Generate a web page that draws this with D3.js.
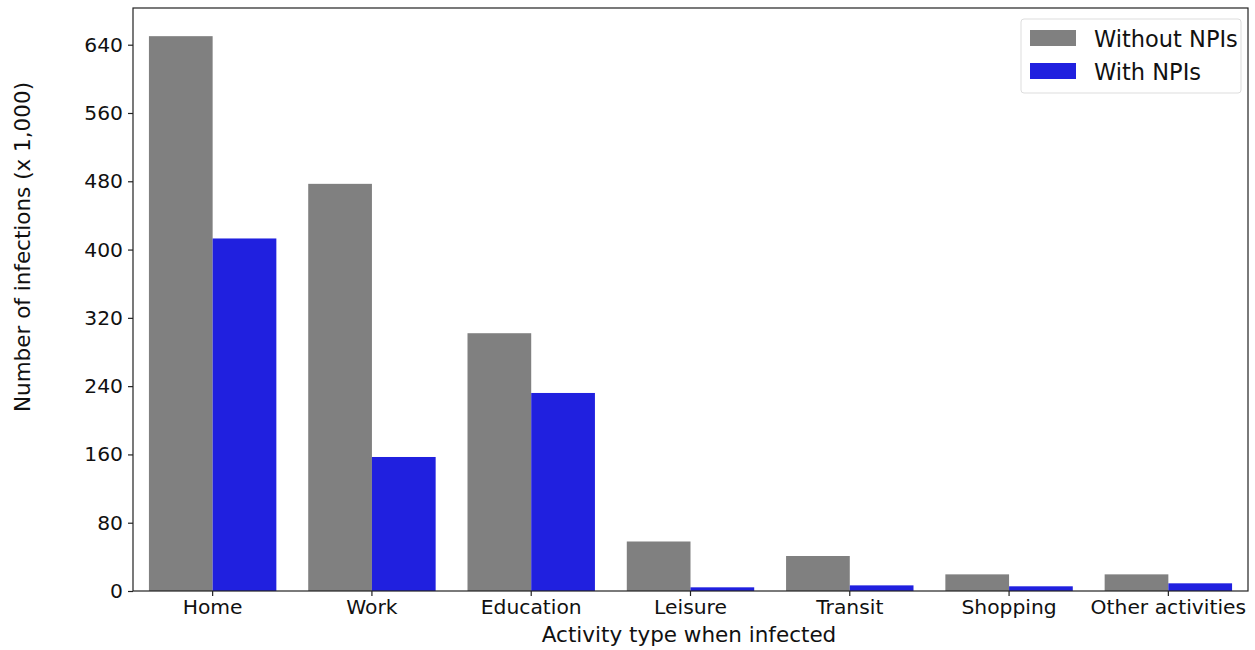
<!DOCTYPE html>
<html>
<head>
<meta charset="utf-8">
<script src="https://cdn.jsdelivr.net/npm/d3@7"></script>
<style>
  body { margin: 0; background: #fff; }
  text { font-family: 'DejaVu Sans', sans-serif; fill: #111; }
</style>
</head>
<body>
<div id="chart"></div>
<script>
const categories = ['Home', 'Work', 'Education', 'Leisure', 'Transit', 'Shopping', 'Other activities']
const seriesNames = ['Without NPIs', 'With NPIs']
const withoutNPIs = [650, 477, 302, 58, 41, 19.5, 19.5]
const withNPIs = [413, 157, 232, 4.3, 6.6, 5.5, 9]
const yTicks = [0, 80, 160, 240, 320, 400, 480, 560, 640]

const W = 1255
const H = 650
const margin = { top: 8, right: 7, bottom: 59, left: 133 }
const width = W - margin.left - margin.right
const height = H - margin.top - margin.bottom

const colors = { 'Without NPIs': '#808080', 'With NPIs': '#2020df' }

const svg = d3.select('#chart')
  .append('svg')
  .attr('width', W)
  .attr('height', H)

const g = svg.append('g')
  .attr('transform', `translate(${margin.left},${margin.top})`)

const x = d3.scaleBand()
  .domain(categories)
  .range([0, width])
  .paddingInner(0.2)
  .paddingOuter(0.1)

const x1 = d3.scaleBand()
  .domain(seriesNames)
  .range([0, x.bandwidth()])

const y = d3.scaleLinear()
  .domain([0, 683])
  .range([height, 0])

const rows = categories.map((c, i) => ({
  cat: c,
  vals: [
    { name: seriesNames[0], value: withoutNPIs[i] },
    { name: seriesNames[1], value: withNPIs[i] }
  ]
}))

// bars
g.selectAll('.grp')
  .data(rows)
  .enter()
  .append('g')
  .attr('transform', d => `translate(${x(d.cat)},0)`)
  .selectAll('rect')
  .data(d => d.vals)
  .enter()
  .append('rect')
  .attr('x', d => x1(d.name))
  .attr('y', d => y(d.value))
  .attr('width', x1.bandwidth())
  .attr('height', d => height - y(d.value))
  .attr('fill', d => colors[d.name])

// axes
const xAxis = g.append('g')
  .attr('transform', `translate(0,${height})`)
  .call(d3.axisBottom(x).tickSize(5).tickPadding(4))
xAxis.selectAll('text').style('font-size', '20.3px')

const yAxis = g.append('g')
  .call(d3.axisLeft(y).tickValues(yTicks).tickSize(5).tickPadding(5))
yAxis.selectAll('text').style('font-size', '20.3px')

g.selectAll('.domain').remove()
g.selectAll('.tick line').attr('stroke', '#222').attr('stroke-width', 1.2)

// frame
g.append('rect')
  .attr('width', width)
  .attr('height', height)
  .attr('fill', 'none')
  .attr('stroke', '#222')
  .attr('stroke-width', 1.2)

// axis titles
svg.append('text')
  .attr('x', 689)
  .attr('y', 642)
  .attr('text-anchor', 'middle')
  .style('font-size', '21.5px')
  .text('Activity type when infected')

svg.append('text')
  .attr('transform', 'translate(30,247) rotate(-90)')
  .attr('text-anchor', 'middle')
  .style('font-size', '21.5px')
  .text('Number of infections (x 1,000)')

// legend
const legend = svg.append('g')
  .attr('transform', 'translate(1021, 19)')

legend.append('rect')
  .attr('width', 220)
  .attr('height', 74)
  .attr('rx', 3)
  .attr('fill', '#fff')
  .attr('stroke', '#ddd')

seriesNames.forEach((s, i) => {
  const row = legend.append('g')
    .attr('transform', `translate(9, ${11 + i * 33})`)
  row.append('rect')
    .attr('width', 46)
    .attr('height', 16)
    .attr('fill', colors[s])
  row.append('text')
    .attr('x', 64)
    .attr('y', 17)
    .style('font-size', '22.5px')
    .text(s)
})
</script>
</body>
</html>
